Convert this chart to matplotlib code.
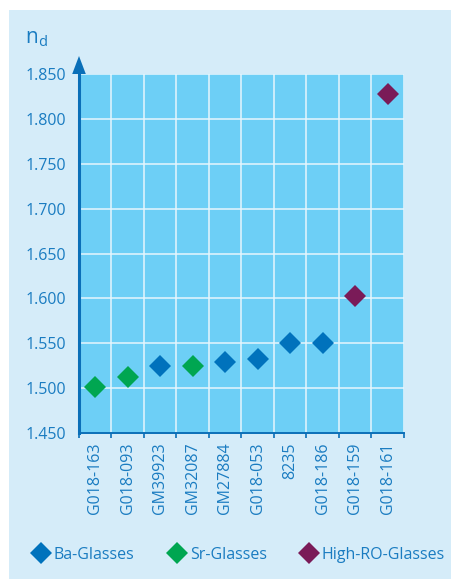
import matplotlib
matplotlib.use("Agg")
import matplotlib.pyplot as plt
from matplotlib.lines import Line2D
from matplotlib.patches import Rectangle, Polygon

# ---- data ----
categories = ["G018-163", "G018-093", "GM39923", "GM32087", "GM27884",
              "G018-053", "8235", "G018-186", "G018-159", "G018-161"]
nd_values = [1.501, 1.512, 1.525, 1.525, 1.529, 1.533, 1.550, 1.550, 1.603, 1.828]
groups = ["Sr", "Sr", "Ba", "Sr", "Ba", "Ba", "Ba", "Ba", "High", "High"]
group_labels = {"Ba": "Ba-Glasses", "Sr": "Sr-Glasses", "High": "High-RO-Glasses"}
group_colors = {"Ba": "#0072bc", "Sr": "#00a651", "High": "#7a1b58"}
y_ticks = [1.450, 1.500, 1.550, 1.600, 1.650, 1.700, 1.750, 1.800, 1.850]

TEXT = "#1a7cc1"
AXIS = "#0a6fb8"
BG = "#d5ecf9"
FACE = "#6dcff6"

plt.rcParams['font.family'] = ['Open Sans', 'DejaVu Sans']

W, H = 452, 579
fig = plt.figure(figsize=(W / 100, H / 100), dpi=100)
fig.patch.set_facecolor("white")
fig.patches.append(Rectangle((9 / W, 0), 1 - 9 / W, (H - 10) / H,
                             transform=fig.transFigure, facecolor=BG,
                             edgecolor="none", zorder=-10))

x0, x1, ytop, ybot = 79, 404, 74, 433
aw, ah = x1 - x0, ybot - ytop
ax = fig.add_axes([x0 / W, (H - ybot) / H, aw / W, ah / H])
ax.set_facecolor(FACE)

xs = list(range(len(categories)))
for g in ["Ba", "Sr", "High"]:
    gx = [x for x, gg in zip(xs, groups) if gg == g]
    gy = [v for v, gg in zip(nd_values, groups) if gg == g]
    ax.plot(gx, gy, linestyle="none", marker="D", markersize=10.7,
            markeredgewidth=0, color=group_colors[g], zorder=3, clip_on=False)

ax.set_xlim(-0.5, len(categories) - 0.5)
ax.set_ylim(1.450, 1.850)
ax.set_yticks(y_ticks)
ax.set_yticklabels([f"{t:.3f}" for t in y_ticks])
ax.set_xticks(xs)
ax.set_xticklabels(categories, rotation=90)
ax.set_xticks([x - 0.5 for x in xs] + [len(categories) - 0.5], minor=True)

ax.tick_params(axis="x", which="major", length=0, pad=7, labelsize=11.5, labelcolor=TEXT)
ax.tick_params(axis="x", which="minor", length=3.5, width=1.2, color=AXIS, direction="out")
ax.tick_params(axis="y", which="major", length=0, pad=9, labelsize=11.5, labelcolor=TEXT)

ax.grid(True, axis="y", which="major", color="#e6f6fd", linewidth=1.1)
ax.grid(True, axis="x", which="minor", color="#e6f6fd", linewidth=1.1)
ax.set_axisbelow(True)

for s in ["top", "right"]:
    ax.spines[s].set_visible(False)
ax.spines["left"].set_color(AXIS)
ax.spines["left"].set_linewidth(2.2)
ax.spines["bottom"].set_color(AXIS)
ax.spines["bottom"].set_linewidth(1.4)

# arrow head on top of y axis
head = Polygon([(-6.8 / aw, 1.0), (6.8 / aw, 1.0), (0, 1.0 + 18 / ah)],
               closed=True, transform=ax.transAxes, facecolor=AXIS,
               edgecolor="none", clip_on=False, zorder=5)
ax.add_patch(head)

fig.text(25 / W, (H - 43) / H, r"$\mathregular{n_d}$", fontsize=15, color=TEXT,
         ha="left", va="baseline")

handles = [Line2D([], [], linestyle="none", marker="D", markersize=10.7,
                  markeredgewidth=0, color=group_colors[g], label=group_labels[g])
           for g in ["Ba", "Sr", "High"]]
leg = fig.legend(handles=handles, loc="center left", ncol=3,
                 bbox_to_anchor=(30 / W, (H - 555) / H), frameon=False,
                 fontsize=11.5, handletextpad=0.1, columnspacing=1.95,
                 handlelength=1.4, borderaxespad=0, borderpad=0)
for t in leg.get_texts():
    t.set_color(TEXT)

fig.savefig("out.png", dpi=100, facecolor=fig.get_facecolor())
